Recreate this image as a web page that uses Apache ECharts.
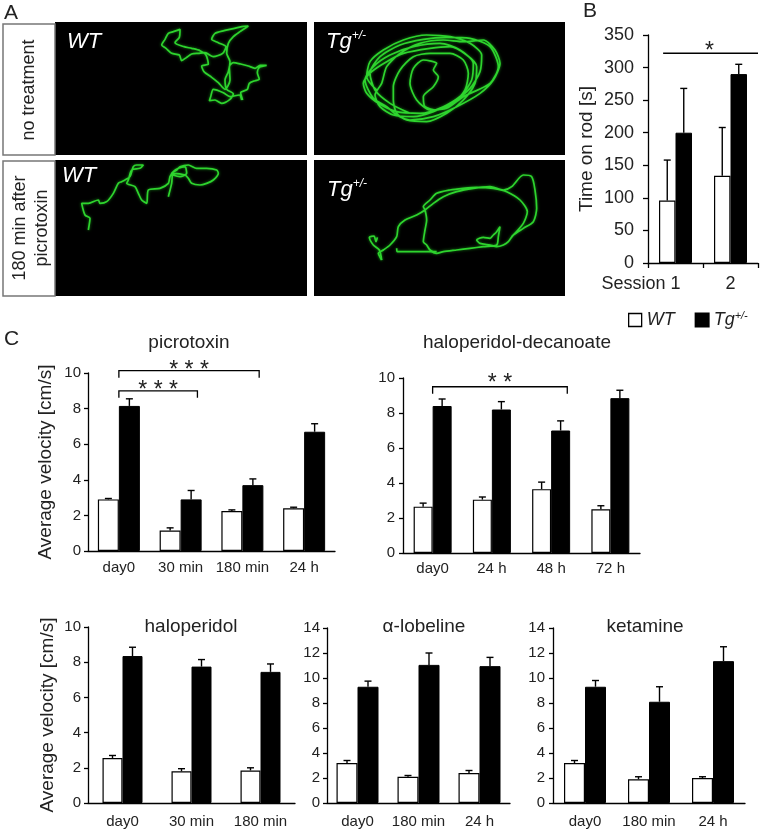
<!DOCTYPE html>
<html><head><meta charset="utf-8">
<script src="https://cdn.jsdelivr.net/npm/echarts@6/dist/echarts.min.js"></script>
<style>html,body{margin:0;padding:0;background:#fff}#c{width:761px;height:833px}</style>
</head><body><div id="c"></div>
<script>
// ---------------- DATA ----------------
// Panel A: tracked paths (camera frame units)
const trackWTnone = [[725,300],[718,285],[690,290],[670,278],[640,268],[632,290],[628,302],[645,300],[665,310],[690,298],[700,282],[680,268],[675,240],[685,215],[690,185],[680,160],[685,130],[700,110],[720,95],[745,78],[725,80],[700,86],[672,92],[645,100],[635,118],[655,128],[678,140],[668,160],[640,170],[615,158],[595,160],[575,162],[560,172],[545,182],[538,165],[515,160],[498,145],[485,135],[495,118],[505,100],[520,95],[540,88],[538,112],[525,128],[552,140],[575,145],[600,152],[618,165],[625,192],[605,198],[612,215],[635,232],[655,248],[675,268],[690,240],[688,200],[700,188],[722,192],[745,198],[765,205],[780,196],[800,196],[778,202],[772,218],[778,238],[765,242],[748,250],[742,268],[722,278],[728,300]];
const trackTgnone = [[260,270],[230,230],[240,185],[280,150],[340,120],[410,105],[480,110],[540,130],[575,165],[570,215],[540,265],[490,305],[430,335],[370,350],[310,345],[270,320],[255,285],[275,250],[290,200],[330,160],[390,130],[460,120],[520,125],[580,120],[615,150],[630,190],[610,240],[570,280],[500,320],[430,350],[360,360],[320,345],[290,320],[250,295],[225,240],[250,200],[300,165],[370,140],[450,130],[510,150],[550,190],[545,240],[515,285],[460,320],[390,340],[320,335],[265,310],[230,280],[220,250],[245,215],[290,185],[340,160],[420,145],[480,140],[530,165],[560,200],[555,250],[520,300],[470,340],[410,365],[350,360],[320,340],[310,300],[310,260],[330,210],[370,170],[420,160],[480,160],[520,180],[535,220],[525,270],[490,310],[440,330],[405,320],[400,290],[430,260],[445,230],[430,210],[440,190],[400,180],[370,205],[360,250],[380,300],[420,330],[470,325],[520,290],[600,250],[625,200],[600,140],[540,115],[470,112],[400,118],[330,135],[270,170],[240,220],[255,270],[300,310],[360,340]];
const trackWTpicro = [[265,240],[270,205],[255,195],[245,160],[265,160],[295,150],[300,160],[320,155],[340,130],[355,100],[365,95],[375,90],[390,80],[400,50],[410,45],[430,45],[420,55],[395,60],[385,90],[380,100],[405,110],[415,130],[425,150],[440,160],[445,120],[480,115],[505,100],[510,80],[520,65],[535,55],[555,50],[560,70],[540,80],[520,75],[515,70],[530,60],[540,50],[565,45],[590,55],[620,55],[650,60],[655,70],[640,90],[620,100],[600,105],[575,100],[565,85],[555,75],[520,70],[515,100],[505,140]];
const trackTgpicro = [[275,330],[265,310],[280,300],[300,285],[320,260],[325,230],[345,210],[380,195],[405,180],[430,160],[460,140],[500,125],[550,115],[600,110],[640,120],[665,110],[700,75],[725,80],[735,120],[740,175],[730,215],[700,235],[670,255],[655,275],[640,285],[620,290],[600,285],[570,280],[560,270],[580,262],[600,265],[610,255],[620,245],[630,230],[625,260],[620,285],[580,290],[540,295],[500,300],[460,305],[440,310],[420,300],[410,285],[400,275],[405,240],[410,210],[405,180],[400,170],[420,150],[440,130],[480,120],[520,115],[560,112],[610,115],[650,125],[690,150],[712,185],[700,220],[665,260]];
const trackTgpicroTail = [[320,295],[322,305],[360,305],[400,305],[440,305]];
const trackTgpicroStart = [[275,330],[268,300],[250,285],[238,262],[252,258],[258,275],[262,262]];

// Panel B: time on rod [s]
const sessionCats = ['Session 1', '2'];
const rodWT = [96, 134];
const rodWTsem = [62, 74];
const rodTg = [200, 290];
const rodTgSem = [68, 15];
const rodSig = [[0, 1, 322, '*']];

// Panel C: average velocity [cm/s]
const picroCats = ['day0', '30 min', '180 min', '24 h'];
const picroWT = [2.9, 1.15, 2.25, 2.4];
const picroWTsem = [0.05, 0.15, 0.06, 0.06];
const picroTg = [8.15, 2.9, 3.7, 6.7];
const picroTgSem = [0.4, 0.5, 0.35, 0.45];
const picroSig = [[0, 2, 10.13, '* * *'], [0, 1, 9.0, '* * *']];

const haloDecCats = ['day0', '24 h', '48 h', '72 h'];
const haloDecWT = [2.65, 3.05, 3.65, 2.5];
const haloDecWTsem = [0.2, 0.15, 0.4, 0.2];
const haloDecTg = [8.4, 8.2, 7.0, 8.85];
const haloDecTgSem = [0.4, 0.45, 0.55, 0.45];
const haloDecSig = [[0, 2, 9.5, '* *']];

const haloCats = ['day0', '30 min', '180 min'];
const haloWT = [2.55, 1.8, 1.85];
const haloWTsem = [0.15, 0.15, 0.15];
const haloTg = [8.35, 7.75, 7.45];
const haloTgSem = [0.5, 0.4, 0.45];

const lobeCats = ['day0', '180 min', '24 h'];
const lobeWT = [3.2, 2.1, 2.4];
const lobeWTsem = [0.2, 0.1, 0.2];
const lobeTg = [9.3, 11.05, 10.95];
const lobeTgSem = [0.45, 0.95, 0.7];

const ketaCats = ['day0', '180 min', '24 h'];
const ketaWT = [3.2, 1.9, 2.0];
const ketaWTsem = [0.2, 0.2, 0.1];
const ketaTg = [9.3, 8.1, 11.35];
const ketaTgSem = [0.5, 1.2, 1.15];

// ---------------- CHART ----------------
const F = 'Liberation Sans, Arial, sans-serif';
const chart = echarts.init(document.getElementById('c'), null, {renderer: 'canvas'});

const grid = [
  {left: 55, top: 22, width: 252, height: 133, show: true, backgroundColor: '#000', borderWidth: 0},
  {left: 314, top: 22, width: 251, height: 133, show: true, backgroundColor: '#000', borderWidth: 0},
  {left: 55, top: 160, width: 252, height: 136, show: true, backgroundColor: '#000', borderWidth: 0},
  {left: 314, top: 160, width: 251, height: 136, show: true, backgroundColor: '#000', borderWidth: 0},
  {left: 648, top: 35, width: 110, height: 228},
  {left: 88, top: 373, width: 247, height: 178},
  {left: 403, top: 378, width: 237, height: 175},
  {left: 88, top: 627, width: 207, height: 176},
  {left: 327, top: 628, width: 183, height: 175},
  {left: 553, top: 628, width: 192, height: 175}
];
const xAxis = [], yAxis = [], series = [];

// camera frames for the four track panels
const frames = [[165, 921, 66, 465], [72, 825, 66, 465], [165, 921, 30, 438], [72, 825, 30, 438]];
const tracks = [[trackWTnone], [trackTgnone], [trackWTpicro], [trackTgpicro, trackTgpicroTail, trackTgpicroStart]];
frames.forEach((f, i) => {
  xAxis.push({type: 'value', gridIndex: i, min: f[0], max: f[1], show: false});
  yAxis.push({type: 'value', gridIndex: i, min: f[2], max: f[3], inverse: true, show: false});
  tracks[i].forEach(t => series.push({
    type: 'line', xAxisIndex: i, yAxisIndex: i, data: t, showSymbol: false, smooth: 0.25,
    lineStyle: {color: '#2ed42e', width: 1.7, shadowColor: 'rgba(40,220,40,0.6)', shadowBlur: 3},
    silent: true
  }));
});

function errRender(sign, bw) {
  return function (params, api) {
    const c = api.value(0), top = api.value(1), v = api.value(2);
    const p1 = api.coord([c, v]), p2 = api.coord([c, top]);
    const x = p1[0] + sign * bw / 2;
    const st = {stroke: '#000', lineWidth: 1.4};
    return {type: 'group', children: [
      {type: 'line', shape: {x1: x, y1: p1[1], x2: x, y2: p2[1]}, style: st},
      {type: 'line', shape: {x1: x - 3.5, y1: p2[1], x2: x + 3.5, y2: p2[1]}, style: st}
    ]};
  };
}
function sigRender(sig, bw, o) {
  return function (params, api) {
    const row = sig[params.dataIndex];
    const pa = api.coord([row[0], row[2]]), pb = api.coord([row[1], row[2]]);
    const x1 = pa[0] + o.start * bw;
    const x2 = o.toEdge ? params.coordSys.x + params.coordSys.width : pb[0] + o.end * bw;
    const y = pa[1];
    return {type: 'group', children: [
      {type: 'polyline', shape: {points: [[x1, y + o.tip], [x1, y], [x2, y], [x2, y + o.tip]]},
        style: {stroke: '#000', lineWidth: 1.3, fill: null}},
      {type: 'text', style: {text: row[3], x: (x1 + x2) / 2 + (o.tx || 0), y: y - o.ty, align: 'center', verticalAlign: 'middle',
        fontSize: 23, fontFamily: F, fill: '#222'}}
    ]};
  };
}

const barCharts = [
  {gi: 4, cats: sessionCats, wt: rodWT, wtS: rodWTsem, tg: rodTg, tgS: rodTgSem, bw: 16.5, max: 350, iv: 50,
    sig: rodSig, sigOpt: {start: -0.75, toEdge: true, tip: 0, ty: 2, tx: -1}, name: 'Time on rod [s]', nameGap: 52,
    yFont: 18, yMargin: 14, xFont: 18, xMargin: 12, tickLen: 5, xTicks: true},
  {gi: 5, cats: picroCats, wt: picroWT, wtS: picroWTsem, tg: picroTg, tgS: picroTgSem, bw: 21, max: 10, iv: 2,
    sig: picroSig, sigOpt: {start: 0, end: 0.8, tip: 7, ty: 0.5}, name: 'Average velocity [cm/s]', nameGap: 33,
    yFont: 15, yMargin: 7, xFont: 15, xMargin: 9, tickLen: 4},
  {gi: 6, cats: haloDecCats, wt: haloDecWT, wtS: haloDecWTsem, tg: haloDecTg, tgS: haloDecTgSem, bw: 19, max: 10, iv: 2,
    sig: haloDecSig, sigOpt: {start: 0, end: 0.85, tip: 7, ty: 3}, yFont: 15, yMargin: 8, xFont: 15, xMargin: 8, tickLen: 4},
  {gi: 7, cats: haloCats, wt: haloWT, wtS: haloWTsem, tg: haloTg, tgS: haloTgSem, bw: 20, max: 10, iv: 2,
    name: 'Average velocity [cm/s]', nameGap: 31, yFont: 15, yMargin: 7, xFont: 15, xMargin: 11, tickLen: 4},
  {gi: 8, cats: lobeCats, wt: lobeWT, wtS: lobeWTsem, tg: lobeTg, tgS: lobeTgSem, bw: 21, max: 14, iv: 2,
    yFont: 15, yMargin: 7, xFont: 15, xMargin: 11, tickLen: 4},
  {gi: 9, cats: ketaCats, wt: ketaWT, wtS: ketaWTsem, tg: ketaTg, tgS: ketaTgSem, bw: 21, max: 14, iv: 2,
    yFont: 15, yMargin: 8, xFont: 15, xMargin: 11, tickLen: 4}
];

barCharts.forEach(b => {
  const ai = xAxis.length;
  const catData = b.cats.map((c, i) => (b.gi === 4 && i === 0) ? {value: c, textStyle: {align: 'right', padding: [0, -5, 0, 0]}} : c);
  xAxis.push({type: 'category', gridIndex: b.gi, data: catData,
    axisLine: {lineStyle: {color: '#000', width: 1.3}},
    axisTick: {show: !!b.xTicks, length: 5, lineStyle: {color: '#000', width: 1.3}},
    axisLabel: {interval: 0, fontSize: b.xFont, margin: b.xMargin, color: '#222', fontFamily: F}});
  yAxis.push({type: 'value', gridIndex: b.gi, min: 0, max: b.max, interval: b.iv,
    splitLine: {show: false},
    axisLine: {show: true, lineStyle: {color: '#000', width: 1.3}},
    axisTick: {show: true, length: b.tickLen, lineStyle: {color: '#000', width: 1.3}},
    axisLabel: {fontSize: b.yFont, margin: b.yMargin, color: '#222', fontFamily: F},
    name: b.name || '', nameLocation: 'middle', nameGap: b.nameGap || 30,
    nameTextStyle: {fontSize: 19, color: '#222', fontFamily: F}});
  series.push({type: 'bar', name: 'WT', xAxisIndex: ai, yAxisIndex: ai, data: b.wt, barWidth: b.bw, barGap: '0%',
    itemStyle: {color: '#fff', borderColor: '#000', borderWidth: 1.2}, silent: true});
  series.push({type: 'bar', name: 'Tg', xAxisIndex: ai, yAxisIndex: ai, data: b.tg, barWidth: b.bw, barGap: '0%',
    itemStyle: {color: '#000', borderColor: '#000', borderWidth: 1}, silent: true});
  series.push({type: 'custom', xAxisIndex: ai, yAxisIndex: ai, renderItem: errRender(-1, b.bw), encode: {x: 0, y: 1},
    data: b.wt.map((v, i) => [i, v + b.wtS[i], v]), silent: true, z: 5});
  series.push({type: 'custom', xAxisIndex: ai, yAxisIndex: ai, renderItem: errRender(1, b.bw), encode: {x: 0, y: 1},
    data: b.tg.map((v, i) => [i, v + b.tgS[i], v]), silent: true, z: 5});
  if (b.sig) {
    series.push({type: 'custom', xAxisIndex: ai, yAxisIndex: ai, renderItem: sigRender(b.sig, b.bw, b.sigOpt),
      encode: {x: 0, y: 2}, data: b.sig.map(r => [r[0], r[1], r[2]]), silent: true, clip: false, z: 6});
  }
});

const txt = (t, x, y, o) => Object.assign({type: 'text', x, y, silent: true,
  style: Object.assign({text: t, fontFamily: F, fontSize: 20, fill: '#222', align: 'left', verticalAlign: 'middle'}, o || {})});
const supRich = {
  a: {fontSize: 22, fontStyle: 'italic', fill: '#fff', fontFamily: F},
  b: {fontSize: 12, fontStyle: 'italic', fill: '#fff', fontFamily: F, padding: [0, 0, 12, 0]}
};

const graphic = [
  txt('A', 4, 13, {fontSize: 21}),
  txt('B', 583, 11, {fontSize: 21}),
  txt('C', 4, 339, {fontSize: 21}),
  {type: 'rect', shape: {x: 3, y: 24, width: 52, height: 131}, style: {fill: '#fff', stroke: '#777', lineWidth: 1.5}, silent: true},
  {type: 'rect', shape: {x: 3, y: 161, width: 52, height: 135}, style: {fill: '#fff', stroke: '#777', lineWidth: 1.5}, silent: true},
  Object.assign(txt('no treatment', 29, 90, {fontSize: 18, align: 'center'}), {rotation: Math.PI / 2}),
  Object.assign(txt('180 min after\npicrotoxin', 31, 228, {fontSize: 18, align: 'center', lineHeight: 22}), {rotation: Math.PI / 2}),
  txt('WT', 67, 42, {fontSize: 22, fontStyle: 'italic', fill: '#fff'}),
  txt('WT', 62, 176, {fontSize: 22, fontStyle: 'italic', fill: '#fff'}),
  txt('{a|Tg}{b|+/-}', 326, 42, {rich: supRich}),
  txt('{a|Tg}{b|+/-}', 327, 190, {rich: supRich}),
  txt('picrotoxin', 189, 343, {fontSize: 19, align: 'center'}),
  txt('haloperidol-decanoate', 517, 343, {fontSize: 19, align: 'center'}),
  txt('haloperidol', 191, 627, {fontSize: 19, align: 'center'}),
  txt('α-lobeline', 424, 627, {fontSize: 19, align: 'center'}),
  txt('ketamine', 645, 627, {fontSize: 19, align: 'center'})
];

chart.setOption({
  animation: false,
  backgroundColor: '#fff',
  textStyle: {fontFamily: F},
  grid, xAxis, yAxis, series, graphic,
  legend: {
    left: 623, top: 305, itemWidth: 13, itemHeight: 13, itemGap: 20, selectedMode: false, icon: 'rect',
    data: [
      {name: 'WT', itemStyle: {color: '#fff', borderColor: '#000', borderWidth: 1.3}},
      {name: 'Tg', itemStyle: {color: '#000'}}
    ],
    formatter: n => n === 'Tg' ? '{i|Tg}{s|+/-}' : '{i|WT}',
    textStyle: {color: '#222', rich: {
      i: {fontSize: 18, fontStyle: 'italic', fontFamily: F, color: '#222'},
      s: {fontSize: 11, fontStyle: 'italic', fontFamily: F, color: '#222', padding: [0, 0, 9, 0]}
    }}
  }
});
</script></body></html>
